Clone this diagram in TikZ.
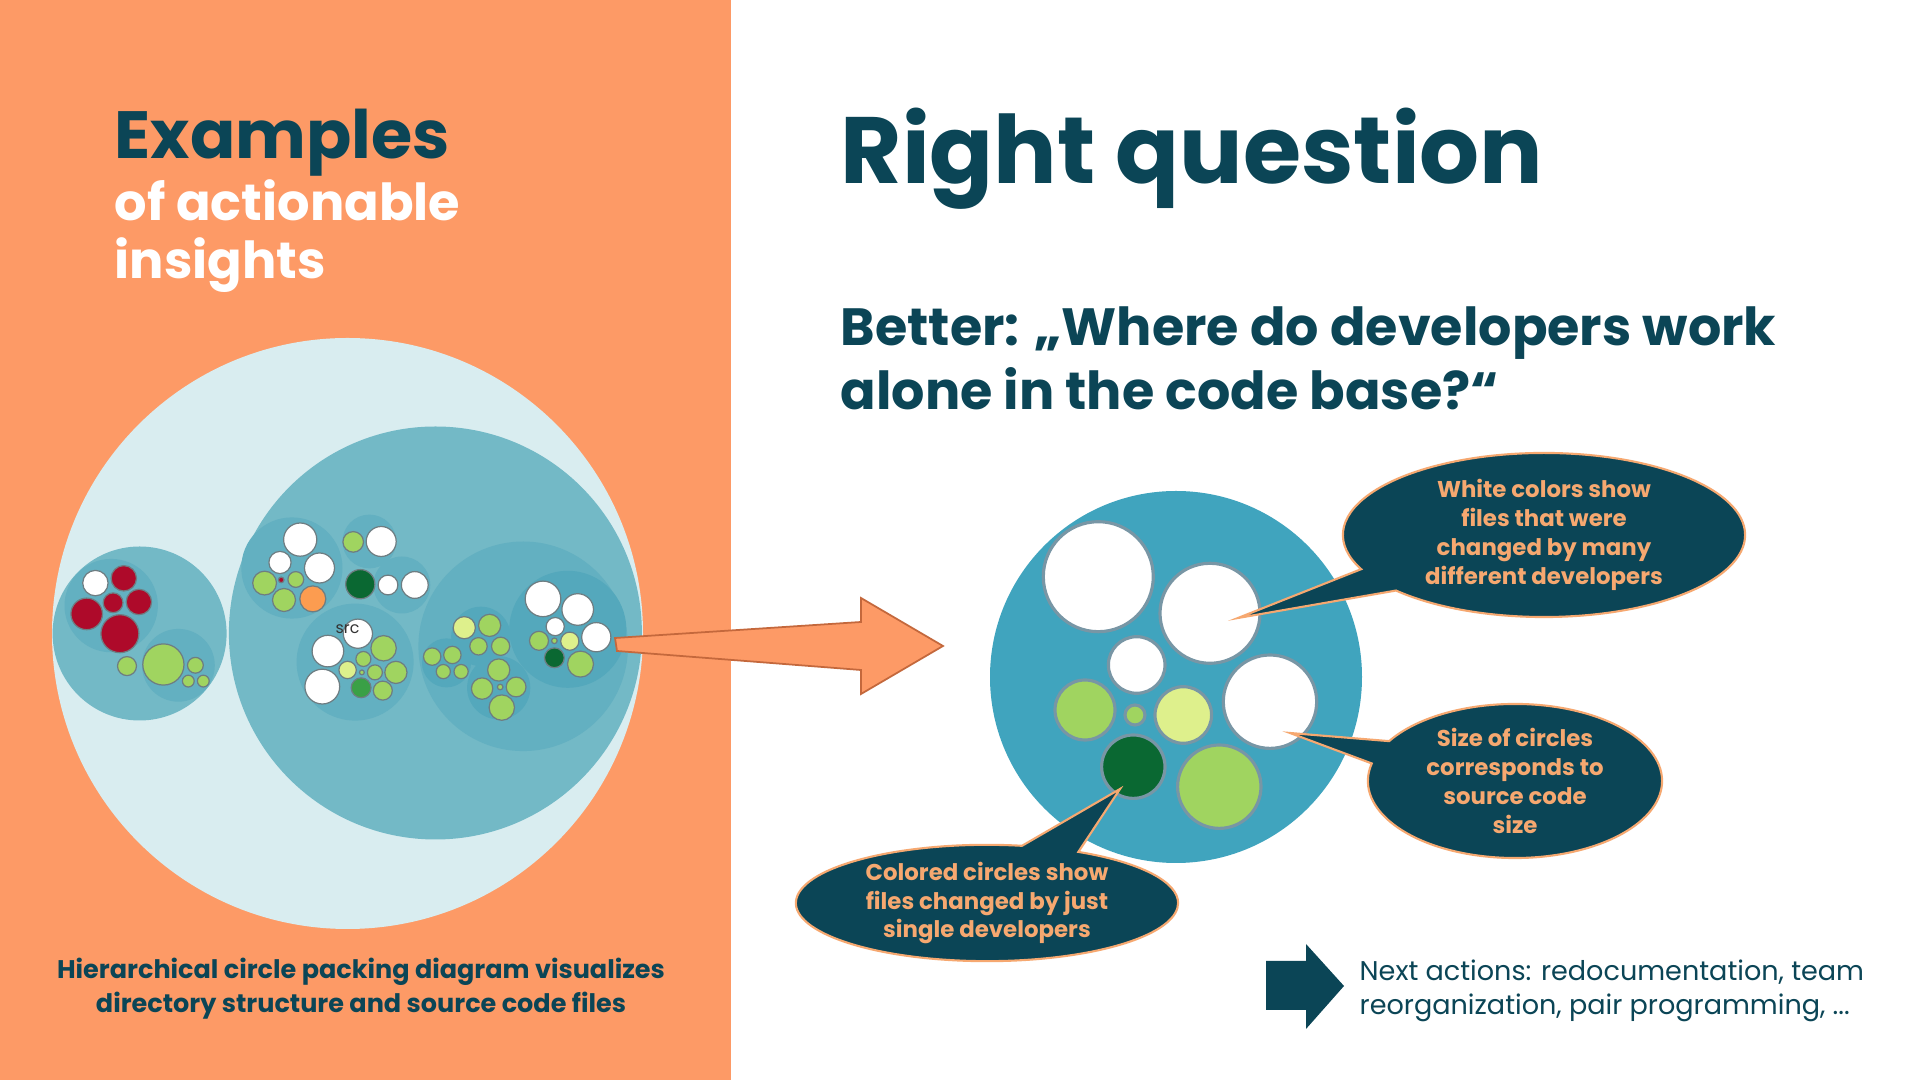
\documentclass[tikz,border=0pt]{standalone}
\usepackage{fontspec}
\setmainfont{Poppins}
\usetikzlibrary{shapes.callouts,positioning}

\definecolor{deepteal}{RGB}{11,69,86}
\definecolor{slide}{RGB}{253,154,102}
\definecolor{arrowrim}{RGB}{196,104,60}
\definecolor{skyring}{RGB}{217,237,240}
\definecolor{lvlone}{RGB}{115,185,198}
\definecolor{lvltwo}{RGB}{99,176,193}
\definecolor{lvlthree}{RGB}{84,168,188}
\definecolor{focusteal}{RGB}{64,164,190}
\definecolor{rimgray}{RGB}{110,125,130}
\definecolor{softrim}{RGB}{120,150,165}
\definecolor{leaf}{RGB}{160,212,96}
\definecolor{paleleaf}{RGB}{222,240,140}
\definecolor{darkleaf}{RGB}{10,104,50}
\definecolor{midleaf}{RGB}{58,160,70}
\definecolor{wine}{RGB}{174,10,42}
\definecolor{peach}{RGB}{252,156,80}
\definecolor{bubbletext}{RGB}{246,168,112}

\begin{document}
\begin{tikzpicture}[
    x=0.01cm, y=-0.01cm,
    headline/.style={font=\bfseries\fontsize{19}{23}\selectfont, text=deepteal, anchor=base west, inner sep=0},
    subline/.style={font=\bfseries\fontsize{14.5}{17}\selectfont, text=white, anchor=base west, inner sep=0},
    bigtitle/.style={font=\bfseries\fontsize{26.8}{32}\selectfont, text=deepteal, anchor=base west, inner sep=0},
    question/.style={font=\bfseries\fontsize{14.9}{18}\selectfont, text=deepteal, anchor=base west, inner sep=0},
    bubble/.style={ellipse callout, fill=deepteal, draw=bubbletext, line width=0.6pt, callout pointer arc=18,
        text=bubbletext, font=\bfseries\fontsize{6.5}{8.2}\selectfont, align=center, inner sep=0},
    note/.style={text=deepteal, align=center, inner sep=0},
    whitefile/.style={fill=white, draw=rimgray, line width=0.35pt},
    greenfile/.style={fill=leaf, draw=rimgray, line width=0.35pt},
    redfile/.style={fill=wine, draw=rimgray, line width=0.35pt},
    bigfile/.style={draw=softrim, line width=0.9pt}
]
\useasboundingbox (0,0) rectangle (1920,1080);
\fill[white] (0,0) rectangle (1920,1080);
\fill[slide] (0,0) rectangle (731,1080);

% titles
\node[headline] (examples) at (114,159) {Examples};
\node[subline] (actionable) at (114,221) {of actionable};
\node[subline] (insights) at (114,279) {insights};
\node[bigtitle] (title) at (840,184) {Right question};
\node[question] (better) at (840,346) {Better: „Where do developers work};
\node[question] (alone) at (840,410) {alone in the code base?“};

% circle packing of the code base
\fill[skyring] (347.5,633.5) circle (295.5);
\fill[lvlone] (435.4,633) circle (206.5);
\fill[lvlone] (139.6,633.5) circle (87);
\foreach \x/\y/\r in {111.2/605.6/46.7, 178.4/665.3/36.4, 291.9/568/50.6, 369.4/541.5/26.9,
    401.8/585/28.5, 355.1/662.1/58.5, 523.2/646.3/104.8}
    \fill[lvltwo] (\x,\y) circle (\r);
\foreach \x/\y/\r in {567.8/629.3/58.5, 480.9/636.4/29.7, 446.5/662.9/24.5, 498.7/687.8/31.6}
    \fill[lvlthree] (\x,\y) circle (\r);

\foreach \x/\y/\r in {123.8/578.3/12.7, 86.7/613.9/15.8, 113.1/602.8/9.9, 138.9/602/12.7, 119.9/633.7/19}
    \filldraw[redfile] (\x,\y) circle (\r);
\foreach \x/\y/\r in {95.4/583.1/12.7, 300.2/539.6/16.6, 280/562.5/11.1, 319.5/568/15, 381.2/541.5/15,
    388/585/9.9, 414.8/585/13.4, 357.9/633.7/14.6, 327.9/651.1/15.8, 322.3/686.6/17.4,
    543/598.9/17.8, 577.7/609.5/15.8, 555.2/626.6/9.1, 596.3/637.2/14.6}
    \filldraw[whitefile] (\x,\y) circle (\r);
\foreach \x/\y/\r in {127/666.1/9.5, 163.4/664.5/20.6, 195.4/665.3/7.9, 188.3/681.1/5.9, 203.3/681.1/5.9,
    264.6/583.1/11.9, 295.8/579.5/7.9, 284/600/11.5, 353.2/541.9/10.3,
    383.6/648.3/12.7, 363.4/659/7.5, 374.9/672.4/7.5, 395.9/672.4/11.1, 361.9/672.4/2.4, 382.8/690.6/9.5,
    539/640.8/9.5, 554.4/640.8/2.8, 580.5/664.1/13,
    489.6/625.4/11.1, 478.5/646.3/8.7, 500.6/646.3/9.1,
    432.2/656.6/8.7, 452.4/655/8.7, 443.3/671.6/7.1, 461.1/671.6/7.1,
    498.7/670/11.1, 482.1/688.6/10.7, 516.1/687/9.9, 500.2/687/2.8, 501.8/707.6/12.7}
    \filldraw[greenfile] (\x,\y) circle (\r);
\foreach \x/\y/\r in {347.6/670/8.7, 569.8/641.2/9.1, 464.3/627.7/11.1}
    \filldraw[greenfile, fill=paleleaf] (\x,\y) circle (\r);
\filldraw[greenfile, fill=wine] (281.2,579.9) circle (2.8);
\filldraw[greenfile, fill=peach] (312.8,598.9) circle (13);
\filldraw[greenfile, fill=darkleaf] (360.3,584.2) circle (14.6);
\filldraw[greenfile, fill=darkleaf] (554.4,657.8) circle (9.9);
\filldraw[greenfile, fill=midleaf] (361.1,687.8) circle (9.9);
\node[font=\fontsize{4.5}{5}\selectfont, text=black!80, inner sep=0] (src) at (347.6,629.5) {src};

% zoom arrow
\coordinate (tailtop) at (615,638);
\coordinate (tailbot) at (617,651);
\coordinate (tip) at (943,646);
\filldraw[fill=slide, draw=arrowrim, line width=0.5pt, line join=miter]
    (tailtop) -- (861,622) -- (861,598) -- (tip) -- (861,694) -- (861,670) -- (tailbot) -- cycle;

% zoomed module
\fill[focusteal] (1176,677) circle (186);
\foreach \x/\y/\r in {1098.3/576.7/55, 1210/613.3/50, 1136.7/665/28.3, 1270/701.7/46.7}
    \filldraw[bigfile, fill=white] (\x,\y) circle (\r);
\filldraw[bigfile, fill=leaf] (1085,710) circle (30);
\filldraw[bigfile, fill=leaf] (1135,715) circle (10);
\filldraw[bigfile, fill=paleleaf] (1183.3,715) circle (28.3);
\filldraw[bigfile, fill=darkleaf] (1133.3,766.7) circle (31.7);
\filldraw[bigfile, fill=leaf] (1219.3,786.7) circle (41.7);

% callouts
\coordinate (manytip) at (1238,618);
\coordinate (sizetip) at (1290,733);
\coordinate (singletip) at (1120,789);
\node[bubble, callout absolute pointer={(manytip)}, minimum width=4.02cm, minimum height=1.64cm] (many)
    at (1544,535) {White colors show\\files that were\\changed by many\\different developers};
\node[bubble, callout absolute pointer={(sizetip)}, minimum width=2.94cm, minimum height=1.54cm] (size)
    at (1515,781) {Size of circles\\corresponds to\\source code\\size};
\node[bubble, callout absolute pointer={(singletip)}, minimum width=3.82cm, minimum height=1.14cm] (single)
    at (987,903) {Colored circles show\\files changed by just\\single developers};

% captions
\node[note, font=\bfseries\fontsize{7.25}{9.6}\selectfont] (caption) at (361,989)
    {Hierarchical circle packing diagram visualizes\\directory structure and source code files};
\fill[deepteal] (1266,961) -- (1306,961) -- (1306,944) -- (1344,986) -- (1306,1029) -- (1306,1010) -- (1266,1010) -- cycle;
\node[note, align=left, anchor=west, font=\fontsize{7.7}{9.6}\selectfont] (next) at (1359,991)
    {Next actions: redocumentation, team\\reorganization, pair programming, ...};
\end{tikzpicture}
\end{document}
